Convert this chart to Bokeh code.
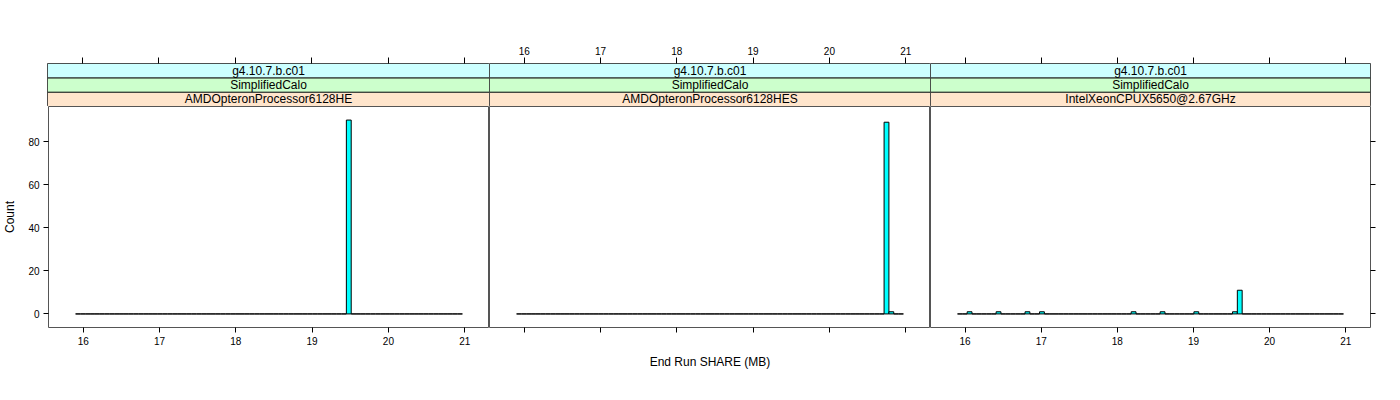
import numpy as np
from bokeh.plotting import figure
from bokeh.layouts import row, column
from bokeh.models import Range1d, FixedTicker, LinearAxis, ColumnDataSource
from bokeh.embed import file_html
from bokeh.resources import INLINE
from bokeh.core.properties import value

# ---------------- data ----------------
strip_version = "g4.10.7.b.c01"
strip_physics = "SimplifiedCalo"
processors = ["AMDOpteronProcessor6128HE", "AMDOpteronProcessor6128HES",
              "IntelXeonCPUX5650@2.67GHz"]

bin_start = 15.9
bin_end = 20.97
n_bins = 80

x_ticks = [16, 17, 18, 19, 20, 21]
y_ticks = [0, 20, 40, 60, 80]

panel1_values = [19.48]
panel1_counts = [90]
panel2_values = [20.75, 20.82]
panel2_counts = [89, 1]
panel3_values = [16.06, 16.44, 16.82, 17.02, 18.23, 18.60, 19.04, 19.55, 19.62]
panel3_counts = [1, 1, 1, 1, 1, 1, 1, 1, 11]

x_label = "End Run SHARE (MB)"
y_label = "Count"

# ---------------- styling ----------------
FONT = "Liberation Sans"
strip_colors = ["#ffe5cc", "#ccffcc", "#ccffff"]
bar_fill = "#00ffff"
frame_color = "#555555"

values = [panel1_values, panel2_values, panel3_values]
counts = [panel1_counts, panel2_counts, panel3_counts]

edges = np.linspace(bin_start, bin_end, n_bins + 1)
span = bin_end - bin_start
x_lo, x_hi = bin_start - 0.07 * span, bin_end + 0.07 * span
y_max = max(max(c) for c in counts)
y_lo, y_hi = -0.07 * y_max, 1.07 * y_max

widths = [489, 441, 470]
left_b = [47, 0, 0]
right_b = [0, 0, 30]


def base_axis(ticks, show_labels, tick_out=5):
    ax = LinearAxis(ticker=FixedTicker(ticks=ticks),
                    major_tick_in=0, major_tick_out=tick_out,
                    minor_tick_line_color=None, axis_line_color=None,
                    major_tick_line_color="#000000",
                    major_label_text_font=FONT,
                    major_label_text_font_size="10px",
                    major_label_text_color="#000000",
                    major_label_standoff=4)
    if not show_labels:
        ax.major_label_overrides = {t: "" for t in ticks}
    return ax


strips = []
panels = []
for i in range(3):
    # ---- strip figure ----
    s = figure(width=widths[i], height=106, x_range=Range1d(x_lo, x_hi),
               y_range=Range1d(0, 3), output_backend="svg",
               toolbar_location=None, x_axis_location=None,
               y_axis_location=None, min_border_left=left_b[i],
               min_border_right=right_b[i], min_border_top=63,
               min_border_bottom=0)
    s.grid.visible = False
    s.outline_line_color = frame_color
    s.background_fill_color = "white"
    s.border_fill_color = "white"
    src = ColumnDataSource(dict(left=[x_lo] * 3, right=[x_hi] * 3,
                                bottom=[0, 1, 2], top=[1, 2, 3],
                                color=strip_colors,
                                label=[processors[i], strip_physics, strip_version],
                                x=[(x_lo + x_hi) / 2] * 3, y=[0.5, 1.5, 2.5]))
    s.quad(left="left", right="right", bottom="bottom", top="top",
           fill_color="color", line_color="#222222", line_width=1, source=src)
    s.text(x="x", y="y", text="label", source=src, text_align="center",
           text_baseline="middle", text_font=value(FONT),
           text_font_size="12px", text_color="#000000")
    top_ax = base_axis(x_ticks, show_labels=(i == 1), tick_out=6)
    top_ax.major_label_standoff = 3
    s.add_layout(top_ax, "above")
    strips.append(s)

    # ---- panel figure ----
    p = figure(width=widths[i], height=294, x_range=Range1d(x_lo, x_hi),
               y_range=Range1d(y_lo, y_hi), output_backend="svg",
               toolbar_location=None, x_axis_location=None,
               y_axis_location=None, min_border_left=left_b[i],
               min_border_right=right_b[i], min_border_top=0,
               min_border_bottom=73)
    p.grid.visible = False
    p.outline_line_color = frame_color
    p.background_fill_color = "white"
    p.border_fill_color = "white"

    hist, _ = np.histogram(values[i], bins=edges, weights=counts[i])
    hsrc = ColumnDataSource(dict(left=edges[:-1], right=edges[1:],
                                 bottom=np.zeros(n_bins), top=hist))
    p.quad(left="left", right="right", bottom="bottom", top="top",
           fill_color=bar_fill, line_color="#000000", line_width=1, source=hsrc)

    bax = base_axis(x_ticks, show_labels=(i != 1))
    if i == 1:
        bax.axis_label = x_label
        bax.axis_label_text_font = FONT
        bax.axis_label_text_font_size = "12px"
        bax.axis_label_text_font_style = "normal"
        bax.axis_label_text_color = "#000000"
        bax.axis_label_standoff = 22
    p.add_layout(bax, "below")
    if i == 0:
        lax = base_axis(y_ticks, show_labels=True)
        lax.axis_label = y_label
        lax.axis_label_text_font = FONT
        lax.axis_label_text_font_size = "12px"
        lax.axis_label_text_font_style = "normal"
        lax.axis_label_text_color = "#000000"
        lax.axis_label_standoff = 8
        lax.major_label_orientation = "horizontal"
        p.add_layout(lax, "left")
    if i == 2:
        rax = base_axis(y_ticks, show_labels=False)
        p.add_layout(rax, "right")
    panels.append(p)

layout = column(row(*strips), row(*panels))

with open("out.html", "w") as f:
    f.write(file_html(layout, INLINE))
